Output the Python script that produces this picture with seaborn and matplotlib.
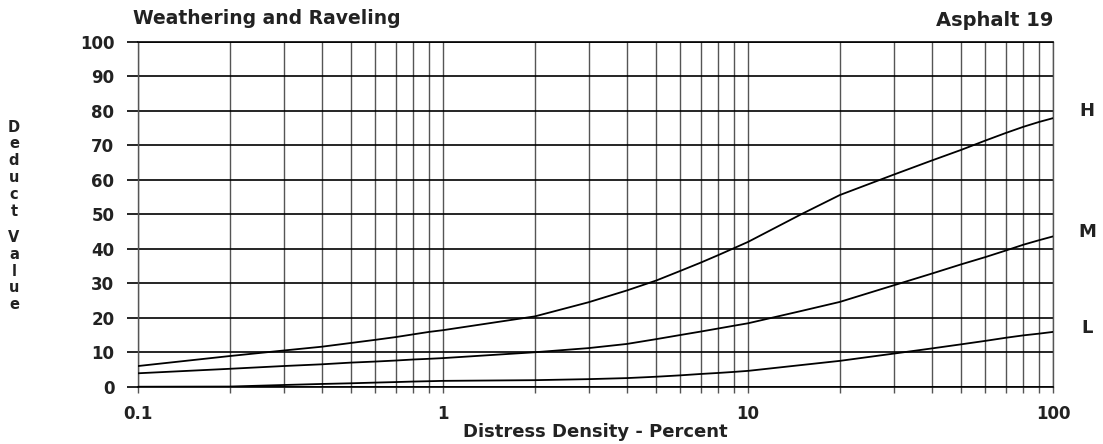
import numpy as np
import pandas as pd
import matplotlib
matplotlib.use("Agg")
import matplotlib.pyplot as plt
from matplotlib.ticker import FixedLocator, NullFormatter
import seaborn as sns

# Distress density (percent) at each log-grid line
density = [0.1, 0.2, 0.3, 0.4, 0.5, 0.6, 0.7, 0.8, 0.9,
           1, 2, 3, 4, 5, 6, 7, 8, 9,
           10, 15, 20, 30, 40, 50, 60, 70, 80, 90, 100]

# Deduct values per severity level
deduct_high = [6.0, 8.9, 10.5, 11.6, 12.7, 13.6, 14.4, 15.2, 15.9,
               16.4, 20.4, 24.5, 27.9, 30.8, 33.6, 36.0, 38.2, 40.2,
               42.0, 50.1, 55.6, 61.5, 65.6, 68.7, 71.4, 73.6, 75.4, 76.8, 77.9]
deduct_medium = [3.9, 5.2, 6.0, 6.5, 7.0, 7.3, 7.6, 7.9, 8.1,
                 8.3, 10.0, 11.2, 12.4, 13.8, 15.0, 16.0, 16.9, 17.7,
                 18.4, 22.0, 24.6, 29.4, 32.8, 35.5, 37.6, 39.5, 41.2, 42.5, 43.6]
deduct_low = [0.0, 0.05, 0.5, 0.8, 1.0, 1.2, 1.35, 1.5, 1.6,
              1.7, 1.9, 2.2, 2.5, 2.9, 3.3, 3.7, 4.0, 4.3,
              4.6, 6.3, 7.5, 9.6, 11.1, 12.3, 13.3, 14.2, 14.9, 15.4, 15.9]

severity_labels = ["H", "M", "L"]
label_positions = [80, 45, 17]

x_tick_values = [0.1, 1, 10, 100]
x_tick_labels = ["0.1", "1", "10", "100"]
y_tick_values = list(range(0, 101, 10))

title_left = "Weathering and Raveling"
title_right = "Asphalt 19"
x_title = "Distress Density - Percent"
y_title_top = "Deduct"
y_title_bottom = "Value"

df = pd.concat([
    pd.DataFrame({"density": density, "deduct": deduct_high, "severity": "H"}),
    pd.DataFrame({"density": density, "deduct": deduct_medium, "severity": "M"}),
    pd.DataFrame({"density": density, "deduct": deduct_low, "severity": "L"}),
], ignore_index=True)

sns.set_style("white")
plt.rcParams["font.family"] = ["DejaVu Sans"]

fig = plt.figure(figsize=(11.03, 4.44), dpi=100)
ax = fig.add_axes([0.1251, 0.129, 0.8296, 0.7765])

grid_gray = "#555555"
ink = "#222222"

sns.lineplot(data=df, x="density", y="deduct", hue="severity",
             palette={"H": "black", "M": "black", "L": "black"},
             linewidth=1.3, legend=False, ax=ax, zorder=5)

ax.set_xscale("log")
ax.set_xlim(0.1, 100)
ax.set_ylim(0, 100)

# log grid: every integer multiple inside each decade
minor = [m * 10.0 ** e for e in (-1, 0, 1) for m in range(2, 10)]
ax.xaxis.set_major_locator(FixedLocator(x_tick_values))
ax.xaxis.set_minor_locator(FixedLocator(minor))
ax.xaxis.set_minor_formatter(NullFormatter())
ax.set_xticks(x_tick_values)
ax.set_xticklabels(x_tick_labels)
ax.set_yticks(y_tick_values)
ax.set_yticklabels([str(v) for v in y_tick_values])

ax.grid(True, axis="x", which="both", color=grid_gray, linewidth=1.0)
ax.grid(True, axis="y", which="major", color="black", linewidth=1.2)
ax.set_axisbelow(True)

ax.tick_params(axis="x", which="both", direction="out", length=4.5,
               width=1.0, color=grid_gray, pad=9, bottom=True)
ax.tick_params(axis="y", which="major", direction="out", length=8,
               width=1.2, color="black", pad=9, left=True)
for lab in ax.get_xticklabels() + ax.get_yticklabels():
    lab.set_fontsize(12)
    lab.set_fontweight("bold")
    lab.set_color(ink)

for side in ("top", "bottom"):
    ax.spines[side].set_color("black")
    ax.spines[side].set_linewidth(1.2)
for side in ("left", "right"):
    ax.spines[side].set_color(grid_gray)
    ax.spines[side].set_linewidth(1.0)

ax.set_xlabel("")
ax.set_ylabel("")

# axis title below the tick labels
fig.text(595 / 1103, 1 - 432 / 444, x_title, ha="center", va="center",
         fontsize=13, fontweight="bold", color=ink)

# titles above the frame
fig.text(133 / 1103, 1 - 18 / 444, title_left, ha="left", va="center",
         fontsize=13.5, fontweight="semibold", color=ink)
fig.text(1053 / 1103, 1 - 20 / 444, title_right, ha="right", va="center",
         fontsize=14, fontweight="bold", color=ink)

# stacked vertical axis title
fig.text(14 / 1103, 1 - 169 / 444, "\n".join(y_title_top), ha="center",
         va="center", fontsize=10.5, fontweight="bold", color=ink,
         linespacing=1.15)
fig.text(14 / 1103, 1 - 271 / 444, "\n".join(y_title_bottom), ha="center",
         va="center", fontsize=10.5, fontweight="bold", color=ink,
         linespacing=1.15)

# severity labels at the right end of each curve
for lab, yv in zip(severity_labels, label_positions):
    ax.annotate(lab, xy=(1.0, yv), xycoords=("axes fraction", "data"),
                xytext=(34, 0), textcoords="offset pixels",
                ha="center", va="center", fontsize=13, fontweight="bold",
                color=ink, annotation_clip=False)

fig.savefig("out.png", dpi=100, facecolor="white")
